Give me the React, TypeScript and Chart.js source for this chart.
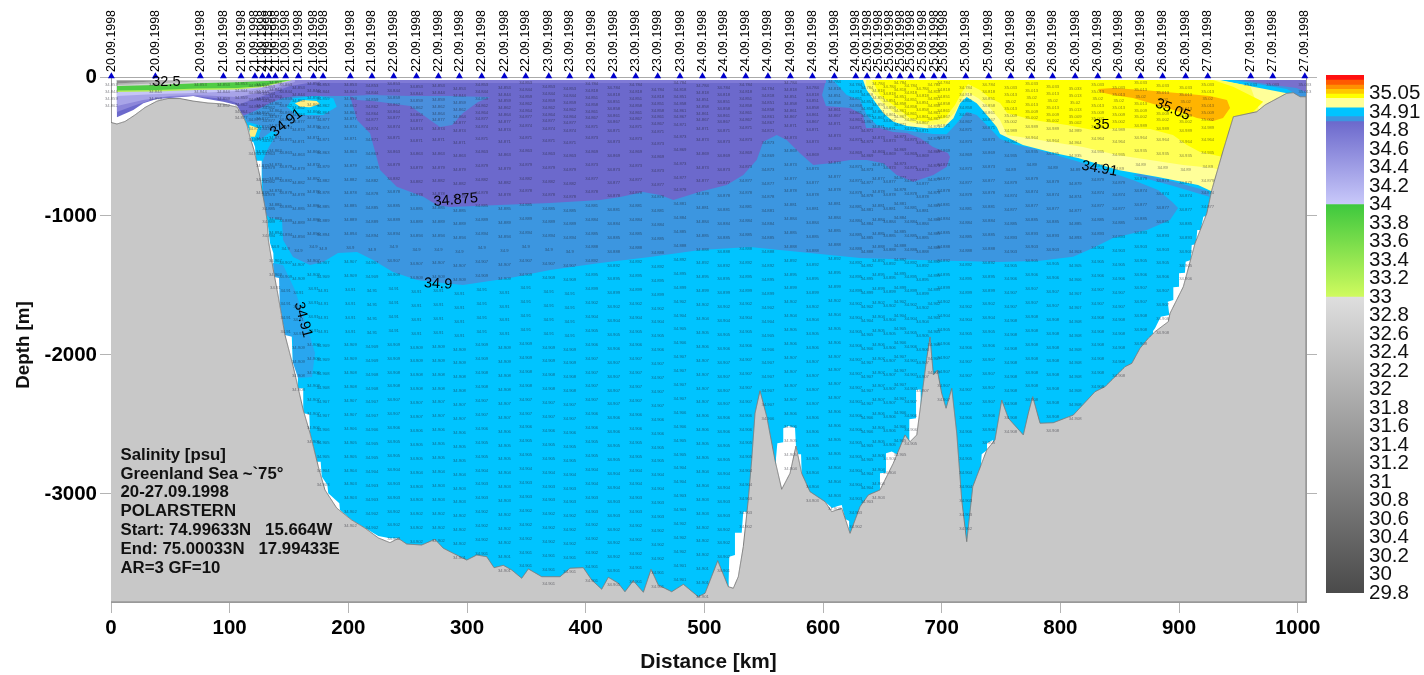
import React, { useEffect, useRef } from "react";
import { Chart, registerables } from "chart.js";

Chart.register(...registerables);

type P = [number, number];
const FONT = "'Liberation Sans', Arial, sans-serif";

// stations: distance [km] and date
const stationKm = [0.3,37.4,75.3,94.7,109.6,121.3,127.6,132.9,138.5,147.2,157.9,170.6,178.7,201.7,219.9,238.2,257.4,275.9,293.6,312.4,331.5,349.5,368.9,386.6,405.1,423.6,442.2,460.7,479.5,498.4,516.3,534.9,553.6,572.5,591.1,609.6,627.6,637.1,646.7,656,664.9,673.9,683.8,693.5,701.7,720.3,739.6,758.2,775.8,793.5,812.5,831.5,849.2,867.7,886.2,905.6,924.2,960.4,979,1006];
const stationDate = [
  ...Array(3).fill("20.09.1998"), ...Array(12).fill("21.09.1998"), ...Array(7).fill("22.09.1998"),
  ...Array(7).fill("23.09.1998"), ...Array(8).fill("24.09.1998"), ...Array(10).fill("25.09.1998"),
  ...Array(9).fill("26.09.1998"), ...Array(4).fill("27.09.1998"),
];
const stationBottom = [180,130,75,180,250,550,800,1150,1480,1854,2178,2630,2904,3185,3262,3328,3350,3340,3458,3436,3515,3550,3595,3530,3616,3645,3620,3650,3650,3725,3558,3180,2465,2847,2990,3098,3185,3020,2970,2860,2680,2610,2250,2140,2320,3257,2660,2520,2300,2480,2430,2260,2140,1947,1790,1400,920,40,40,70];
const stationShift = [0,0,0,5,-5,10,0,15,-10,5,20,-5,5,0,10,-5,15,10,30,0,20,-10,15,30,-5,25,0,35,-15,10,25,5,30,-10,20,-20,5,25,-5,15,-15,10,30,0,-10,20,5,25,-5,15,30,0,20,-10,10,25,5,0,0,0];

// small sample labels [psu] read per depth level, for three stretches of the section
const rowDepth = [55,105,155,205,255,300,360,445,540,640,740,830,930,1030,1130,1230,1330,1430,1530,1630,1730,1830,1930,2030,2130,2230,2330,2430,2530,2630,2730,2830,2930,3030,3130,3230,3330,3430,3530,3630,3730];
const rowWest = [34.853,34.844,34.859,34.862,34.864,34.877,34.874,34.871,34.863,34.879,34.882,34.878,34.885,34.889,34.894,34.9,34.907,34.909,34.91,34.91,34.91,34.91,34.909,34.909,34.908,34.908,34.907,34.907,34.906,34.905,34.905,34.904,34.903,34.903,34.902,34.902,34.902,34.901,34.901,34.901,34.901];
const rowMid = [34.784,34.818,34.851,34.858,34.861,34.867,34.871,34.873,34.869,34.873,34.877,34.878,34.881,34.884,34.885,34.888,34.892,34.895,34.899,34.902,34.904,34.905,34.906,34.907,34.907,34.907,34.907,34.906,34.906,34.905,34.905,34.904,34.904,34.903,34.903,34.902,34.902,34.902,34.901,34.901,34.901];
const rowEast = [35.033,35.013,35.02,35.013,35.009,35.002,34.989,34.964,34.935,34.89,34.879,34.874,34.877,34.885,34.893,34.903,34.905,34.906,34.907,34.907,34.908,34.908,34.908,34.908,34.908,34.908,34.908,34.908,34.908,34.908,34.908,34.908,34.908,34.908,34.908,34.908,34.908,34.908,34.908,34.908,34.908];

// contour labels: km, depth, text, rotation
const contourText = ["32.5","34.91","34.875","34.9","34.91","34.91","35","35.05"];
const contourKm = [46.7,147.8,290.5,275.6,161.8,833,834.6,894.7];
const contourDepth = [39,331,885,1489,1746,660,348,235];
const contourAngle = [0,-38,-5,3,75,10,0,22];

const infoLines = ["Salinity [psu]","Greenland Sea ~`75°","20-27.09.1998","POLARSTERN","Start: 74.99633N   15.664W","End: 75.00033N   17.99433E","AR=3 GF=10"];

const bed: P[] = [[0,327],[5,338],[11.8,320],[20.2,273],[28.7,219],[38.8,173],[48,155],[58.1,155],[69.1,173],[81.7,187],[94.4,194],[106.2,216],[111.2,281],[114.6,345],[117.1,432],[120.5,525],[123,619],[125.6,719],[127.2,813],[129.8,935],[131.5,1029],[132.6,1173],[136.8,1388],[141,1581],[146.6,1856],[153.6,2084],[162,2396],[167.7,2561],[174.7,2803],[180.3,2971],[190.2,3101],[202.8,3187],[214,3245],[225.3,3316],[235.1,3350],[242.1,3319],[249.2,3360],[261.8,3367],[273,3326],[280,3390],[288.5,3427],[299.8,3475],[308.2,3439],[316.6,3451],[322.8,3530],[330.6,3513],[337.7,3547],[346.1,3606],[351.7,3539],[363,3595],[378.4,3595],[386.8,3534],[398,3530],[405.1,3619],[413.5,3685],[419.1,3599],[427.5,3642],[433.1,3703],[440.1,3624],[448.6,3707],[455.1,3542],[461.2,3655],[472.5,3703],[482.3,3650],[494.9,3739],[500.6,3714],[511.3,3480],[520.2,3667],[524.4,3678],[528.6,3595],[532.8,3379],[537,3043],[539.9,2755],[542.7,2419],[546.9,2257],[552.6,2444],[559.5,2755],[565.2,2966],[572.2,2851],[577.2,2655],[582,2851],[589,2983],[601.7,3055],[607.3,3127],[615.8,3103],[622.8,3283],[631.2,3091],[638.2,3007],[648,2971],[659.2,2779],[669.1,2575],[673.3,2624],[679,2575],[687.4,2024],[690.2,1870],[693,2144],[696.3,2108],[700,2275],[703.7,2383],[708.5,2240],[712.7,2563],[716.9,3043],[721.1,3343],[726.2,2947],[738,2683],[744.9,2611],[750.6,2324],[756.2,2455],[768.8,2575],[773,2419],[776.7,2300],[782.9,2491],[794.1,2487],[810.9,2432],[829.2,2264],[837.6,2228],[854.5,2084],[860.2,2060],[867.1,1952],[874.1,1880],[879.8,1832],[891,1760],[892.4,1700],[903.6,1509],[913.5,1196],[923.4,981],[927.6,813],[937.3,525],[945.8,286],[965.5,250],[972.5,201],[990.8,117],[996.3,113],[1002,142],[1007,142],[1007,3777],[0,3777]];

const ocean: P[] = [[111.5,286],[115.4,360],[121.4,504],[122.2,602],[127,602],[127,957],[128.3,1005],[131.7,1029],[134,1194],[136.8,1266],[137.4,1437],[142.4,1437],[143.9,1652],[146.6,1856],[152.3,1856],[153.1,2048],[157.8,2048],[157.3,2240],[162,2240],[162,2419],[167.1,2427],[167.7,2561],[173.3,2768],[176.7,2768],[177.6,2875],[182.3,2935],[183.1,2995],[192.4,3067],[193,3115],[202.8,3187],[214,3245],[225.3,3302],[235.1,3319],[242.1,3319],[242.1,3762],[520.5,3762],[520.5,3619],[521,3451],[525.8,3439],[525.8,3278],[531.5,3278],[532.8,3127],[536,3127],[536,3762],[560.4,3762],[560.4,2741],[561.5,2635],[566.5,2628],[566.5,2527],[570.8,2511],[576.4,2523],[577.2,2655],[579.2,2714],[581.5,2714],[582,2851],[582,3762],[601.7,3762],[601.7,3055],[607.6,3101],[612.6,3086],[615.8,3079],[618.6,3180],[622,3194],[622,3762],[640.4,3762],[641,2995],[648,2995],[648,2851],[653.1,2847],[653.1,2707],[657.9,2695],[663.5,2719],[664,3762],[672.7,3762],[672.7,2463],[678.4,2455],[678.4,2252],[682.3,2247],[682.6,3762],[733.1,3762],[733.1,2791],[733.7,2714],[738.2,2683],[738.2,2635],[743.3,2611],[743.3,3762],[878.1,3762],[878.1,1827],[879.8,1808],[884.6,1724],[891.8,1712],[890.5,1617],[895.2,1604],[895.2,1513],[900,1509],[900,1412],[905,1408],[905.6,1329],[909.9,1317],[910.7,1209],[914.3,1204],[915.4,1101],[918.3,1101],[920.5,1005],[923.4,998],[926.2,921],[926.2,3762],[1007,3762],[1007,22],[111.2,22]];

const blueMain: P[] = [[111.2,281],[145,22],[608.4,22],[620,129],[631.2,165],[636.8,273],[645.3,345],[656.5,369],[673.3,388],[693,410],[704.2,412],[712.7,333],[721.1,250],[729.5,273],[740.7,369],[749.2,446],[763.3,489],[777,513],[819.1,619],[861.2,741],[882.3,813],[894.1,897],[899.2,942],[892.4,1029],[873,1101],[844.4,1158],[827.5,1230],[810.7,1293],[782.9,1322],[749.2,1331],[681.7,1317],[631.2,1302],[580.6,1259],[538.5,1223],[496.3,1245],[454.2,1295],[412.1,1338],[370,1388],[336.2,1446],[313.5,1475],[296.6,1496],[277.2,1481],[257.9,1460],[237.6,1403],[220.8,1317],[207.3,1259],[191.3,1266],[178.7,1331],[167.7,1353],[153.4,1295],[145,1173],[144.1,1029],[134,1014],[128.9,978],[127.2,619],[131.5,525]];
const blueStrip: P[] = [[861.2,705],[895.2,784],[926.2,863],[924.5,820],[895.2,751],[867.1,698]];
const blueSlope: P[] = [[136.5,1338],[145,1353],[155,1532],[165.2,1799],[171.9,1986],[169.4,2158],[157.6,2165],[153.4,2058],[153.4,1870],[146.6,1856],[142.4,1654],[141.6,1446],[137.4,1439]];
const blueLobe: P[] = [[201.4,137],[218.3,129],[252,137],[285.7,137],[319.4,144],[309.3,180],[296.6,259],[287.4,345],[277.2,360],[263,273],[252,209],[220.8,173],[207.3,165]];
const blueWedge: P[] = [[945.6,22],[991,86],[1002,142],[1007,142],[1007,22]];

const purpleMain: P[] = [[5,22],[602.5,22],[599.2,129],[602.5,209],[622.8,223],[633.7,273],[636.3,367],[648,367],[659,396],[670.8,403],[681.7,439],[692.7,504],[705.3,547],[707,576],[704.3,645],[693,705],[676.1,753],[662,705],[650.8,621],[636.8,597],[622.8,597],[606,621],[591.8,633],[580.6,549],[569.4,453],[561,417],[549.7,465],[544.1,597],[532.8,705],[518.8,777],[496.3,825],[473.9,885],[462.7,849],[448.3,827],[429.1,863],[412.1,885],[370,906],[327.8,921],[285.7,935],[274.7,921],[263.2,861],[240.8,789],[226.7,669],[218.3,405],[207.3,309],[201.4,137],[178.7,137],[156.7,137],[145,151],[134,187],[123,237],[111.2,281],[105.9,201],[94.6,178],[77.8,153],[69.4,137],[52.5,149],[38.5,158],[27.2,189],[18.8,237],[5,290]];
const purpleWedge: P[] = [[953.9,22],[1007,22],[1007,108],[999,79],[973,50]];
const purpleTop: P[] = [[150.9,22],[602.5,22],[602.5,43],[150.9,43]];
const lavender3: P[] = [[5,22],[176.1,22],[176.1,29],[150.9,65],[128,137],[108.7,194],[96.1,158],[69.1,137],[38.8,151],[18.5,209],[5,252]];
const lavender2: P[] = [[5,22],[155,22],[155,36],[128,108],[106.2,144],[72.5,129],[49.7,137],[27,165],[5,209]];
const lavender1: P[] = [[5,22],[150.9,22],[150.9,29],[128,79],[106.2,101],[72.5,115],[38.8,122],[5,137]];
const lime: P[] = [[5,22],[152.6,22],[128,72],[106.2,90],[72.5,94],[38.8,104],[5,108]];
const green: P[] = [[5,22],[150.9,22],[128,65],[106.2,79],[72.5,83],[38.8,94],[5,97]];
const grayLight: P[] = [[5,22],[150.9,22],[106.2,38],[72.5,45],[38.8,58],[5,65]];
const grayMid: P[] = [[5,47],[49.6,25],[75,32],[5,58]];
const grayDark: P[] = [[5,25],[49.6,25],[5,47]];

const cyanPatch: P[] = [[148,214],[153.6,153],[173.3,137],[187.3,153],[190.2,214],[178.9,273],[156.5,273]];
const cyanStreak: P[] = [[122.2,525],[127.2,597],[134,489],[139.9,403],[135.7,388],[123,468]];
const cyanSpot: P[] = [[115.4,324],[127.2,352],[123.9,453],[118.8,468]];
const yellowPatch: P[] = [[155,189],[162,165],[173.3,173],[176.1,194],[167.7,218],[159.3,214]];
const yellowSpot: P[] = [[116.5,345],[123.9,367],[121.3,429],[117.1,429]];

const pale: P[] = [[633.7,22],[934.6,22],[962.4,70],[991,117],[991,381],[928.7,827],[916,777],[882.3,719],[848.6,669],[814.9,583],[794.7,547],[768.5,489],[749.2,410],[746.4,360],[738,273],[729.5,189],[721.1,144],[715.5,189],[709.9,297],[701.4,365],[687.4,369],[670.6,353],[659.3,322],[650.9,261],[643.8,178],[636.8,94]];
const medium: P[] = [[636.3,22],[932,22],[960,65],[976.7,453],[934.7,669],[928.7,655],[903.4,633],[875.6,597],[847.8,561],[819.1,504],[782.9,453],[755.1,417],[749.2,309],[740.7,223],[730.6,151],[721.3,108],[716.3,165],[711.2,252],[702.8,338],[687.6,345],[673.3,324],[659,252],[648,165],[636.3,58]];
const bright: P[] = [[641.3,22],[928.7,22],[945.6,70],[970.9,178],[951.4,345],[937.1,575],[917.7,540],[906.7,489],[894.9,417],[875.6,374],[850.3,367],[827.5,381],[805.6,345],[777,309],[755.1,259],[749.2,187],[740.7,151],[732.3,94],[722.2,50],[717.1,108],[711.2,201],[702.8,295],[686,324],[673.3,295],[659,201],[648,129]];
const orange: P[] = [[831.7,86],[844.4,79],[869.7,94],[898.3,115],[926.1,137],[940.4,165],[943,223],[937.1,295],[928.7,317],[915.2,295],[900.9,252],[881.4,201],[861.2,151],[844.4,129],[833.4,108]];

// paint order: back to front
const layers: { pts: P[]; color: string; line?: string }[] = [
  { pts: ocean, color: "#00c4ff" },
  { pts: blueMain, color: "#3c96e0" },
  { pts: blueStrip, color: "#3c96e0" },
  { pts: blueSlope, color: "#29a6ef" },
  { pts: pale, color: "#ffff99" },
  { pts: medium, color: "#ffff55" },
  { pts: bright, color: "#ffff00" },
  { pts: orange, color: "#ffb400" },
  { pts: blueWedge, color: "#3c96e0" },
  { pts: purpleWedge, color: "#7870cc" },
  { pts: purpleMain, color: "#6c69cc" },
  { pts: purpleTop, color: "#7f7ad6" },
  { pts: blueLobe, color: "#4a8fdd" },
  { pts: lavender3, color: "#8c86da" },
  { pts: lavender2, color: "#a8a4e8" },
  { pts: lavender1, color: "#c6c6f6" },
  { pts: lime, color: "#b6ee5c" },
  { pts: green, color: "#50cc45" },
  { pts: grayLight, color: "#d4d4d4" },
  { pts: grayMid, color: "#b4b4b4" },
  { pts: grayDark, color: "#8c8c8c" },
  { pts: cyanPatch, color: "#00c8ff" },
  { pts: cyanStreak, color: "#00c4ff" },
  { pts: cyanSpot, color: "#00c4ff" },
  { pts: yellowPatch, color: "#ffee80" },
  { pts: yellowSpot, color: "#ffee80" },
  { pts: bed, color: "#c8c8c8", line: "#7c7c7c" },
];

const xTicks = [0,100,200,300,400,500,600,700,800,900,1000];
const yTicks = [0,-1000,-2000,-3000];

// colour bar: label per level, band edges in level index
const barLabels = ["29.8","30","30.2","30.4","30.6","30.8","31","31.2","31.4","31.6","31.8","32","32.2","32.4","32.6","32.8","33","33.2","33.4","33.6","33.8","34","34.2","34.4","34.6","34.8","34.91","35.05"];
const barEdges = [0,16,21,25.48,25.75,26.23,26.74,26.97,27.23,27.46,27.73,28];
const barBottomColor = ["#4a4a4a","#d0fb5e","#c9c9fa","#3c96e0","#00c4ff","#ffff99","#ffff00","#ffc800","#ff9000","#ff5a00","#ff1010"];
const barTopColor = ["#dedede","#3ec83e","#6c69cc","#3c96e0","#00c4ff","#ffff99","#ffff00","#ffc800","#ff9000","#ff5a00","#ff1010"];

const fmt = (v: number) => String(v);

const textPlugin = {
  id: "sectionText",
  afterDatasetsDraw(chart: any) {
    const { ctx, scales } = chart;
    const sx = scales.x, sy = scales.y;
    ctx.save();
    ctx.textAlign = "center";
    ctx.textBaseline = "middle";
    ctx.font = `4.2px ${FONT}`;
    ctx.fillStyle = "rgba(30,30,40,0.55)";
    stationKm.forEach((km, s) => {
      const row = s < 24 ? rowWest : s < 47 ? rowMid : rowEast;
      rowDepth.forEach((d, r) => {
        if (d > stationBottom[s] + 60) return;
        ctx.fillText(fmt(row[r]), sx.getPixelForValue(km), sy.getPixelForValue(-(d + stationShift[s])));
      });
    });
    ctx.font = `14.5px ${FONT}`;
    ctx.fillStyle = "#000";
    contourText.forEach((t, i) => {
      ctx.save();
      ctx.translate(sx.getPixelForValue(contourKm[i]), sy.getPixelForValue(-contourDepth[i]));
      ctx.rotate((contourAngle[i] * Math.PI) / 180);
      ctx.fillText(t, 0, 0);
      ctx.restore();
    });
    ctx.textAlign = "left";
    ctx.font = `bold 16.8px ${FONT}`;
    ctx.fillStyle = "#111";
    infoLines.forEach((t, i) => {
      ctx.fillText(t, sx.getPixelForValue(8), sy.getPixelForValue(-2720 - i * 135.5));
    });
    // y axis title, centred where the reference has it
    ctx.save();
    ctx.translate(24, sy.getPixelForValue(-1928));
    ctx.rotate(-Math.PI / 2);
    ctx.textAlign = "center";
    ctx.font = `bold 18.8px ${FONT}`;
    ctx.fillText("Depth [m]", 0, 0);
    ctx.restore();
    ctx.restore();
  },
};

const fixedWidth = (w: number) => (s: any) => { s.width = w; };
const fixedHeight = (h: number) => (s: any) => { s.height = h; };

export default function App() {
  const mainRef = useRef<HTMLCanvasElement>(null);
  const barRef = useRef<HTMLCanvasElement>(null);

  useEffect(() => {
    const gridBase = { drawOnChartArea: false, color: "#aaaaaa", tickColor: "#b4b4b4", tickLength: 11, lineWidth: 1 };
    const n = layers.length;
    const datasets: any[] = layers.map((l, i) => ({
      data: l.pts.map(([x, d]) => ({ x, y: -d })),
      showLine: true,
      fill: "shape",
      backgroundColor: l.color,
      borderColor: l.line ?? l.color,
      borderWidth: l.line ? 1 : 0,
      borderDash: [1, 0],
      pointRadius: 0,
      order: n - i + 1,
      xAxisID: "x",
      yAxisID: "y",
    }));
    datasets.push({
      data: stationKm.map((x) => ({ x, y: 6 })),
      pointStyle: "triangle",
      pointRadius: 4,
      backgroundColor: "#0000cc",
      borderColor: "#0000cc",
      borderWidth: 0,
      showLine: false,
      clip: false,
      order: 0,
      xAxisID: "x",
      yAxisID: "y",
    });

    const main = new Chart(mainRef.current!, {
      type: "scatter",
      data: { datasets },
      plugins: [textPlugin],
      options: {
        animation: false,
        responsive: false,
        events: [],
        layout: { padding: 0, autoPadding: false },
        plugins: { legend: { display: false }, tooltip: { enabled: false }, title: { display: false } },
        scales: {
          x: {
            type: "linear", position: "bottom", min: 0, max: 1007,
            afterBuildTicks: (s: any) => { s.ticks = xTicks.map((value) => ({ value })); },
            afterFit: fixedHeight(73),
            grid: gridBase,
            border: { display: true, color: "#999999" },
            ticks: { color: "#000", font: { family: FONT, weight: "bold", size: 20.5 }, padding: 3, maxRotation: 0, autoSkip: false, callback: (v: any) => String(v) },
            title: { display: true, text: "Distance [km]", color: "#111", font: { family: FONT, weight: "bold", size: 20.8 }, padding: 0 },
          },
          xTop: {
            type: "linear", position: "top", min: 0, max: 1007,
            afterBuildTicks: (s: any) => { s.ticks = stationKm.map((value) => ({ value })); },
            afterFit: fixedHeight(77),
            grid: { drawOnChartArea: false, drawTicks: false },
            border: { display: true, color: "#aaaaaa" },
            ticks: {
              color: "#000", font: { family: FONT, size: 12.4 }, padding: 5, minRotation: 90, maxRotation: 90, autoSkip: false, labelOffset: 15,
              callback: (_v: any, i: number) => stationDate[i],
            },
          },
          y: {
            type: "linear", position: "left", min: -3777, max: 0,
            afterBuildTicks: (s: any) => { s.ticks = yTicks.map((value) => ({ value })); },
            afterFit: fixedWidth(111),
            grid: gridBase,
            border: { display: true, color: "#999999" },
            ticks: { color: "#000", font: { family: FONT, weight: "bold", size: 20.5 }, padding: 3, autoSkip: false, callback: (v: any) => String(v) },
          },
          yR: {
            type: "linear", position: "right", min: -3777, max: 0,
            afterBuildTicks: (s: any) => { s.ticks = yTicks.map((value) => ({ value })); },
            afterFit: fixedWidth(118),
            grid: gridBase,
            border: { display: true, color: "#999999" },
            ticks: { callback: () => "", padding: 0 },
          },
        },
      } as any,
    });

    const barTop = 75;
    const barBottom = 593;
    const levelPx = (v: number) => barBottom - (v / 28) * (barBottom - barTop);
    const barCtx = barRef.current!.getContext("2d")!;
    const bands = barBottomColor.map((_, i) => {
      const g = barCtx.createLinearGradient(0, levelPx(barEdges[i]), 0, levelPx(barEdges[i + 1]));
      g.addColorStop(0, barBottomColor[i]);
      g.addColorStop(1, barTopColor[i]);
      return {
        data: [[barEdges[i], barEdges[i + 1]]],
        backgroundColor: g,
        borderWidth: 0,
        barPercentage: 1,
        categoryPercentage: 1,
        grouped: false,
      };
    });
    const bar = new Chart(barRef.current!, {
      type: "bar",
      data: { labels: ["salinity"], datasets: bands as any },
      options: {
        animation: false,
        responsive: false,
        events: [],
        layout: { padding: { top: barTop, bottom: 675 - barBottom, left: 0, right: 0 }, autoPadding: false },
        plugins: { legend: { display: false }, tooltip: { enabled: false } },
        scales: {
          x: { display: false },
          y: {
            type: "linear", position: "right", min: 0, max: 28,
            afterBuildTicks: (s: any) => { s.ticks = barLabels.map((_, value) => ({ value })); },
            afterFit: fixedWidth(60),
            grid: { display: false, drawTicks: false },
            border: { display: false },
            ticks: {
              color: "#111", font: { family: FONT, size: 20.5 }, padding: 5, autoSkip: false,
              callback: (_v: any, i: number) => barLabels[i],
            },
          },
        },
      } as any,
    });

    return () => { main.destroy(); bar.destroy(); };
  }, []);

  return (
    <div style={{ position: "absolute", left: 0, top: 0, width: 1424, height: 675, background: "#fff", overflow: "hidden" }}>
      <canvas ref={mainRef} width={1424} height={675} style={{ position: "absolute", left: 0, top: 0, width: 1424, height: 675 }} />
      <canvas ref={barRef} width={98} height={675} style={{ position: "absolute", left: 1326, top: 0, width: 98, height: 675 }} />
    </div>
  );
}
